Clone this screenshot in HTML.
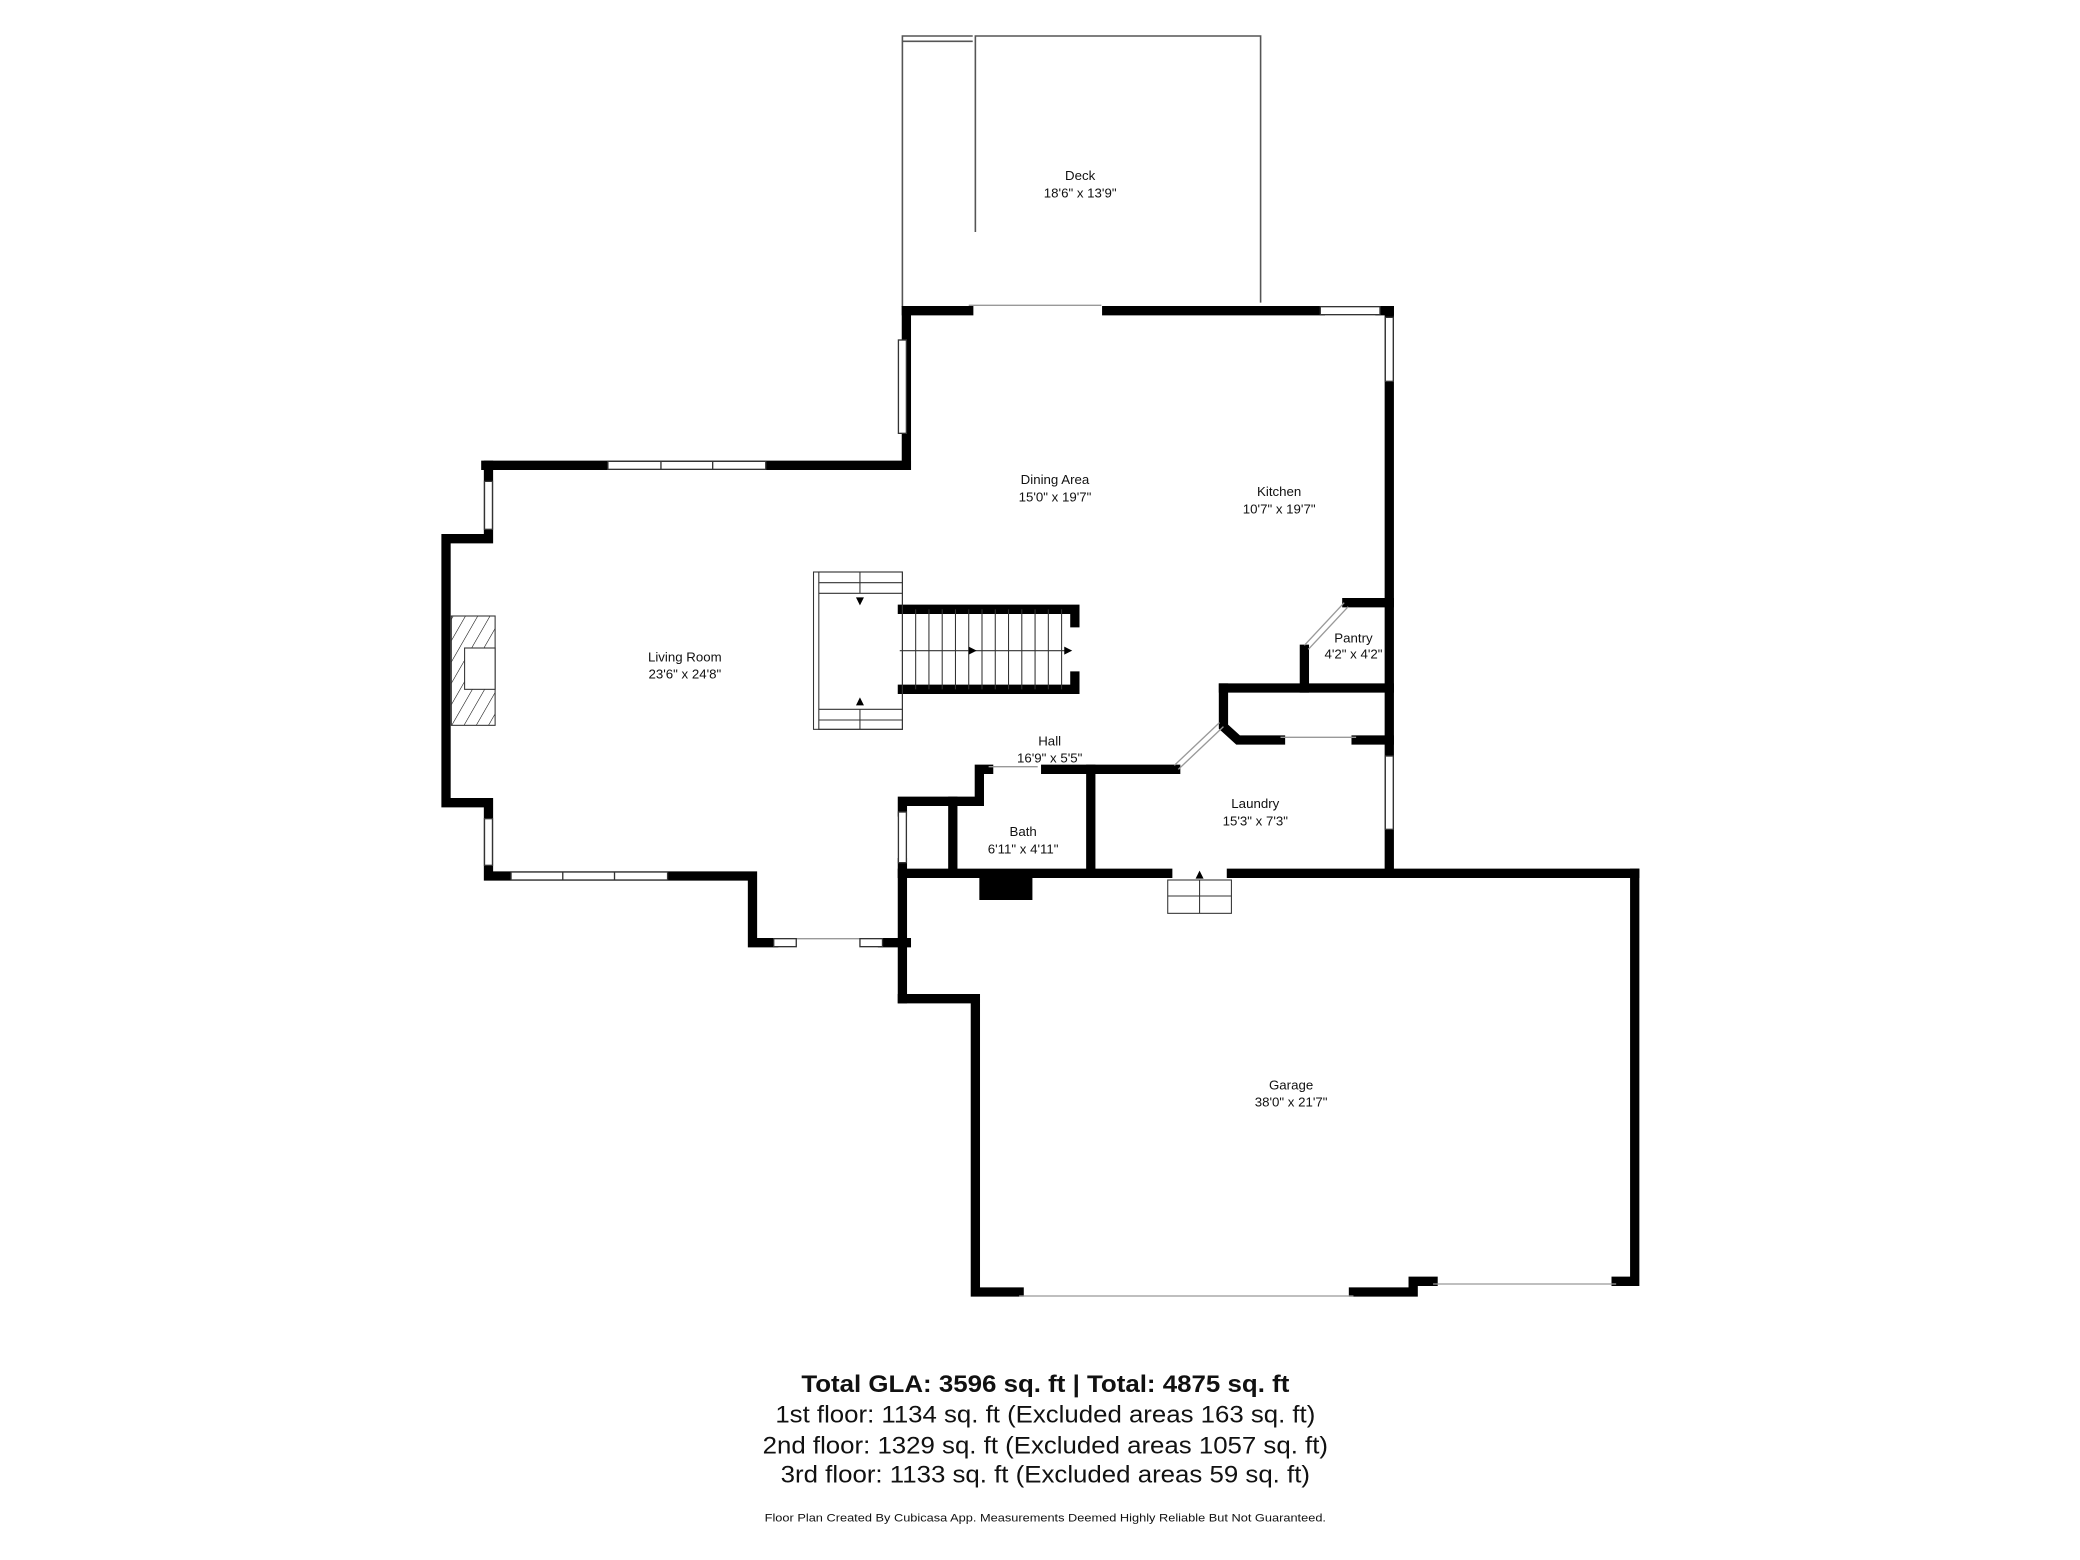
<!DOCTYPE html>
<html><head><meta charset="utf-8"><style>
html,body{margin:0;padding:0;background:#fff;}
svg{display:block}
text{font-family:"Liberation Sans",sans-serif;fill:#111}
</style></head><body>
<svg width="2080" height="1560" viewBox="0 0 1560 1170" xmlns="http://www.w3.org/2000/svg">
<rect width="1560" height="1170" fill="#fff"/>
<defs>
<pattern id="h" width="8" height="8" patternUnits="userSpaceOnUse" patternTransform="rotate(30)">
<line x1="0" y1="0" x2="0" y2="8" stroke="#000" stroke-width="0.8"/></pattern>
</defs>
<g transform="translate(0.2,-3) scale(0.995,1)">
<g stroke="#555" stroke-width="1.2" fill="none">
<polyline points="680,233 680,30 733,30"/>
<line x1="680" y1="34" x2="733" y2="34"/>
<polyline points="735,177 735,30 950,30 950,230"/>
</g>
<g stroke="#000" stroke-width="7" fill="none" stroke-linecap="square">
<polyline points="683,352 683,236"/>
<line x1="366" y1="352" x2="683" y2="352"/>
<polyline points="368,352 368,407 336,407 336,605 368,605 368,660 567,660 567,710 583,710"/>
<line x1="665" y1="710" x2="683" y2="710"/>
<line x1="683" y1="236" x2="730" y2="236"/>
<line x1="834" y1="236" x2="995" y2="236"/>
<line x1="1040" y1="236" x2="1047" y2="236"/>
<line x1="1047" y1="236" x2="1047" y2="658"/>
<polyline points="680,460 810,460 810,470"/>
<polyline points="680,520 810,520 810,510"/>
<polyline points="1015,455 1047,455"/>
<polyline points="983,490 983,519"/>
<line x1="922" y1="519" x2="1047" y2="519"/>
<polyline points="922,519 922,548 933,558 965,558"/>
<line x1="1022" y1="558" x2="1047" y2="558"/>
<polyline points="886,580 788,580"/>
<polyline points="745,580 738,580 738,604 680,604 680,612"/>
<line x1="718" y1="604" x2="718" y2="658"/>
<line x1="822" y1="580" x2="822" y2="658"/>
<line x1="680" y1="650" x2="680" y2="752"/>
<line x1="680" y1="658" x2="880" y2="658"/>
<line x1="928" y1="658" x2="1232" y2="658"/>
<polyline points="680,752 735,752 735,972 768,972"/>
<polyline points="1020,972 1065,972 1065,964 1080,964"/>
<polyline points="1218,964 1232,964 1232,658"/>
</g>
<g stroke="#999" stroke-width="1" fill="none">
<line x1="1013" y1="455" x2="983" y2="487"/>
<line x1="1016" y1="458" x2="986" y2="490"/>
<line x1="922" y1="548" x2="888" y2="580"/>
<line x1="919" y1="545" x2="885" y2="577"/>
<line x1="730" y1="232" x2="830" y2="232"/>
<line x1="768" y1="975" x2="1020" y2="975"/>
<line x1="1080" y1="966" x2="1218" y2="966"/>
<line x1="600" y1="707" x2="648" y2="707"/>
<line x1="965" y1="556" x2="1022" y2="556"/>
<line x1="745" y1="578" x2="782" y2="578"/>
</g>
<g fill="#fff" stroke="#333" stroke-width="1">
<rect x="458" y="349" width="119" height="6"/>
<line x1="498" y1="349" x2="498" y2="355"/><line x1="537" y1="349" x2="537" y2="355"/>
<rect x="385" y="657" width="118" height="6"/>
<line x1="424" y1="657" x2="424" y2="663"/><line x1="463" y1="657" x2="463" y2="663"/>
<rect x="365" y="364" width="6" height="36"/>
<rect x="365" y="617" width="6" height="35"/>
<rect x="677" y="258" width="6" height="70"/>
<rect x="995" y="233" width="45" height="6"/>
<rect x="1044" y="241" width="6" height="48"/>
<rect x="1044" y="570" width="6" height="55"/>
<rect x="583" y="707" width="17" height="6"/>
<rect x="648" y="707" width="17" height="6"/>
<rect x="677" y="612" width="6" height="38"/>
</g>
<g fill="none" stroke="#333" stroke-width="0.8">
<rect x="613" y="432" width="67" height="118"/>
<rect x="617" y="432" width="63" height="118"/>
<line x1="617" y1="440" x2="680" y2="440"/><line x1="617" y1="448" x2="680" y2="448"/>
<line x1="617" y1="535" x2="680" y2="535"/><line x1="617" y1="543" x2="680" y2="543"/>
<line x1="648" y1="432" x2="648" y2="448"/><line x1="648" y1="535" x2="648" y2="550"/>
<line x1="690" y1="460" x2="690" y2="520"/><line x1="700" y1="460" x2="700" y2="520"/>
<line x1="710" y1="460" x2="710" y2="520"/><line x1="720" y1="460" x2="720" y2="520"/>
<line x1="730" y1="460" x2="730" y2="520"/><line x1="740" y1="460" x2="740" y2="520"/>
<line x1="750" y1="460" x2="750" y2="520"/><line x1="760" y1="460" x2="760" y2="520"/>
<line x1="770" y1="460" x2="770" y2="520"/><line x1="780" y1="460" x2="780" y2="520"/>
<line x1="790" y1="460" x2="790" y2="520"/><line x1="800" y1="460" x2="800" y2="520"/>
<line x1="678" y1="491" x2="805" y2="491"/>
<rect x="880" y="663" width="48" height="25"/>
<line x1="904" y1="663" x2="904" y2="688"/><line x1="880" y1="675" x2="928" y2="675"/>
</g>
<g fill="#000">
<polygon points="645,451 651,451 648,457"/><polygon points="645,532 651,532 648,526"/>
<polygon points="730,488 736,491 730,494"/><polygon points="802,488 808,491 802,494"/>
<polygon points="901,662 907,662 904,656"/>
<rect x="738" y="658" width="40" height="20"/>
</g>
<rect x="340" y="465" width="33" height="82" fill="url(#h)" stroke="#333" stroke-width="0.8"/>
<rect x="350" y="489" width="23" height="31" fill="#fff" stroke="#333" stroke-width="0.8"/>
<g font-size="10" text-anchor="middle">
<text x="814" y="138">Deck</text><text x="814" y="151">18'6" x 13'9"</text>
<text x="795" y="366">Dining Area</text><text x="795" y="379">15'0" x 19'7"</text>
<text x="964" y="375">Kitchen</text><text x="964" y="388">10'7" x 19'7"</text>
<text x="1020" y="485">Pantry</text><text x="1020" y="497">4'2" x 4'2"</text>
<text x="516" y="499">Living Room</text><text x="516" y="512">23'6" x 24'8"</text>
<text x="791" y="562">Hall</text><text x="791" y="575">16'9" x 5'5"</text>
<text x="946" y="609">Laundry</text><text x="946" y="622">15'3" x 7'3"</text>
<text x="771" y="630">Bath</text><text x="771" y="643">6'11" x 4'11"</text>
<text x="973" y="820">Garage</text><text x="973" y="833">38'0" x 21'7"</text>
</g>
</g>
<g text-anchor="middle">
<text x="784" y="1044" font-size="18" font-weight="bold" textLength="366" lengthAdjust="spacingAndGlyphs">Total GLA: 3596 sq. ft | Total: 4875 sq. ft</text>
<text x="784" y="1067" font-size="18" textLength="405" lengthAdjust="spacingAndGlyphs">1st floor: 1134 sq. ft (Excluded areas 163 sq. ft)</text>
<text x="784" y="1090" font-size="18" textLength="424" lengthAdjust="spacingAndGlyphs">2nd floor: 1329 sq. ft (Excluded areas 1057 sq. ft)</text>
<text x="784" y="1112" font-size="18" textLength="397" lengthAdjust="spacingAndGlyphs">3rd floor: 1133 sq. ft (Excluded areas 59 sq. ft)</text>
<text x="784" y="1141" font-size="8.5" textLength="421" lengthAdjust="spacingAndGlyphs">Floor Plan Created By Cubicasa App. Measurements Deemed Highly Reliable But Not Guaranteed.</text>
</g>
</svg>
</body></html>
